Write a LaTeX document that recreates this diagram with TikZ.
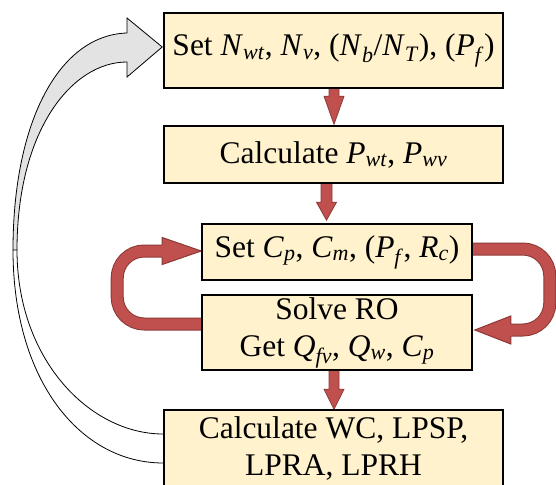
\documentclass[tikz,border=0pt]{standalone}
\usepackage{fontspec}
\setmainfont{Liberation Serif}
\usetikzlibrary{calc,backgrounds}

\definecolor{boxfill}{HTML}{FFF2CC}
\definecolor{loopred}{HTML}{C0504D}
\definecolor{loopdark}{HTML}{8C3836}
\definecolor{ribbongray}{HTML}{E3E3E3}

% italic symbol with italic subscript
\newcommand{\vsub}[2]{\textit{#1}\textsubscript{\textit{#2}}}
% straight block arrow: from, to, shaft half width, head half width, head length
\newcommand{\blockdown}[5]{%
  \filldraw[blockarrow] let \p1=(#1), \p2=(#2) in
    (\x1-#3pt,\y1+2pt) -- (\x1-#3pt,\y2+#5pt) -- (\x1-#4pt,\y2+#5pt) -- (\x1,\y2)
    -- (\x1+#4pt,\y2+#5pt) -- (\x1+#3pt,\y2+#5pt) -- (\x1+#3pt,\y1+2pt) -- cycle;}

\begin{document}
\begin{tikzpicture}[x=1pt, y=-1pt, font=\fontsize{31.5}{37}\selectfont,
  procbox/.style={draw, line width=1.6pt, fill=boxfill, inner sep=0pt, align=center},
  blockarrow/.style={fill=loopred, draw=loopdark, line width=0.8pt},
  loopshaft/.style={draw=loopdark, line width=1pt, double=loopred,
    double distance=11pt, rounded corners=27pt},
  loophead/.style={fill=loopred, draw=loopdark, line width=1pt, line join=miter},
  ribbon/.style={fill=ribbongray, draw=black, line width=0.8pt},
  ribbonline/.style={draw=black, line width=0.8pt}]

  \useasboundingbox (0,0) rectangle (556,484);

  %% ======================== BOXES ========================
  \node[procbox, minimum width=339pt, minimum height=75pt] (setn) at (333.5,50.5)
    {Set \vsub{N}{wt}, \vsub{N}{v}, (\vsub{N}{b}/\vsub{N}{T}), (\vsub{P}{f})};
  \node[procbox, minimum width=339pt, minimum height=57pt] (calcp) at (333.5,154.5)
    {Calculate \vsub{P}{wt}, \vsub{P}{wv}};
  \node[procbox, minimum width=270pt, minimum height=56pt] (setc) at (337,252)
    {Set \vsub{C}{p}, \vsub{C}{m}, (\vsub{P}{f}, \vsub{R}{c})};
  \node[procbox, minimum width=270pt, minimum height=75pt] (solvero) at (337,332.5)
    {Solve RO\\Get \vsub{Q}{fv}, \vsub{Q}{w}, \vsub{C}{p}};
  \node[procbox, minimum width=339pt, minimum height=77pt] (calcwc) at (333.5,448.5)
    {Calculate WC, LPSP,\\LPRA, LPRH};

  \begin{scope}[on background layer]
    %% ==================== DOWN ARROWS ====================
    \blockdown{[xshift=0.5pt]setn.south}{[xshift=0.5pt,yshift=1pt]calcp.north}{5}{10}{28}
    \blockdown{[xshift=-7pt]calcp.south}{[xshift=-10.5pt,yshift=3pt]setc.north}{5.5}{10}{18}
    \blockdown{[xshift=-3pt]solvero.south}{[xshift=0.5pt]calcwc.north}{5}{10}{20}

    %% ===================== RO LOOP =====================
    % left side: back up to the set box
    \draw[loopshaft] ([shift={(3,-8.5)}]solvero.west) -| ([shift={(-84,-1)}]setc.west)
      -- ([shift={(-37,-1)}]setc.west);
    \filldraw[loophead] ([shift={(-39,5)}]setc.west) -- ([shift={(-39,12.5)}]setc.west)
      -- ([shift={(0,-1)}]setc.west) -- ([shift={(-39,-14.5)}]setc.west)
      -- ([shift={(-39,-7)}]setc.west);
    % right side: down to the solver
    \draw[loopshaft] ([shift={(-3,-3)}]setc.east) -| ([shift={(77,-2.5)}]solvero.east)
      -- ([shift={(36,-2.5)}]solvero.east);
    \filldraw[loophead] ([shift={(38,3.5)}]solvero.east) -- ([shift={(38,11.5)}]solvero.east)
      -- ([shift={(2,-2.5)}]solvero.east) -- ([shift={(38,-16.5)}]solvero.east)
      -- ([shift={(38,-8.5)}]solvero.east);

    %% =================== OUTER LOOP ===================
    % front face with the head
    \filldraw[ribbon] (127,62) .. controls (72,62) and (17,130) .. (17,250)
      -- (13,250) .. controls (13,120) and (60,35) .. (127,33)
      -- (127,18) -- ([shift={(-1,-3.5)}]setn.west) -- (127,77) -- cycle;
    % back face down to the last box
    \draw[ribbonline] (13,250) .. controls (13,380) and (80,463) .. ([yshift=-14.5pt]calcwc.west);
    \draw[ribbonline] (17,250) .. controls (17,360) and (90,434) .. ([yshift=14.5pt]calcwc.west);
  \end{scope}

\end{tikzpicture}
\end{document}
